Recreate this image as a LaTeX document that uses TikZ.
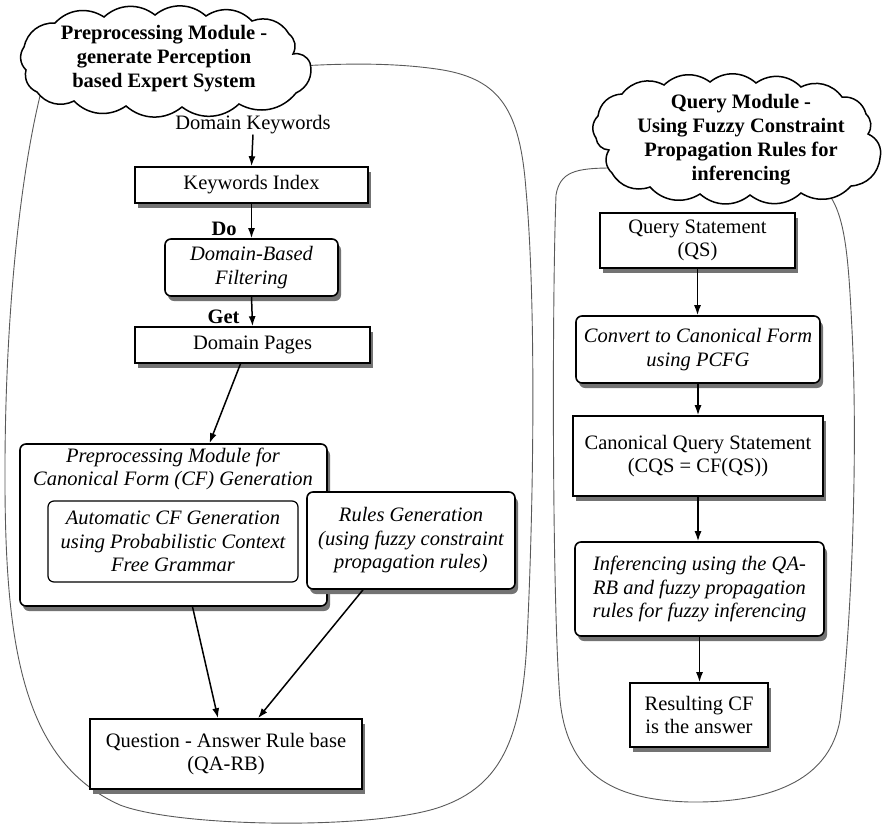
\documentclass[tikz,border=0pt]{standalone}
\usepackage{fontspec}
\setmainfont{Liberation Serif}
\usetikzlibrary{shadows,arrows.meta}
\begin{document}
\begin{tikzpicture}[x=1pt,y=-1pt,
  txt/.style={font=\fontsize{20.5}{23.5}\selectfont, align=center, inner sep=0pt},
  bftxt/.style={font=\fontsize{20.5}{24}\selectfont\bfseries, align=center, inner sep=0pt},
  boxbase/.style={draw=black, line width=1.6pt, fill=white, align=center, inner sep=0pt,
    font=\fontsize{20.5}{23.5}\selectfont,
    drop shadow={shadow xshift=3pt, shadow yshift=-5pt, fill=black!55, opacity=1}},
  sqbox/.style={boxbase},
  itbox/.style={boxbase, rounded corners=6pt, font=\fontsize{20.5}{23.5}\selectfont\itshape},
  arr/.style={-{Latex[length=10pt,width=7pt]}, line width=1.5pt},
  region/.style={draw=black!65, line width=0.9pt},
  cloudline/.style={draw=black, line width=1.5pt, fill=white, line join=miter},
  puff/.style={bend left=40}
]
\useasboundingbox (0,0) rectangle (885,827);

% regions
\draw[region] (40,96) .. controls (22,170) and (6,300) .. (5,460)
  .. controls (4,640) and (20,760) .. (120,805)
  .. controls (180,828) and (380,830) .. (443,806)
  .. controls (500,785) and (522,740) .. (527,640)
  .. controls (534,500) and (536,300) .. (526,190)
  .. controls (520,110) and (500,80) .. (443,70)
  .. controls (400,63) and (350,63) .. (300,66);
\draw[region] (612,168) .. controls (575,168) and (560,172) .. (556,195)
  .. controls (552,300) and (552,600) .. (560,700)
  .. controls (568,780) and (620,800) .. (690,802)
  .. controls (780,803) and (830,775) .. (840,720)
  .. controls (852,620) and (858,450) .. (852,330)
  .. controls (848,250) and (845,205) .. (820,185);

% clouds
\draw[cloudline] (24,47) to[puff] (55,23) to[puff] (104,17) to[puff] (155,15)
  to[puff] (206,16) to[puff] (252,21) to[puff] (289,34) to[puff] (293,54)
  to[puff] (310,63) to[puff] (296,93) to[puff] (239,104) to[puff] (182,107)
  to[puff] (126,106) to[puff] (74,101) to[puff] (37,92) to[puff] (26,70)
  to[puff] (24,47) -- cycle;
\node[bftxt] (c1t) at (164,59) {Preprocessing Module -\\generate Perception\\based Expert System};
\draw[cloudline] (598,116) to[puff] (622,94) to[puff] (664,85) to[puff] (710,82)
  to[puff] (756,83) to[puff] (801,87) to[puff] (842,97) to[puff] (866,114)
  to[puff] (868,134) to[puff] (880,158) to[puff] (851,186) to[puff] (801,193)
  to[puff] (750,195) to[puff] (700,194) to[puff] (650,187) to[puff] (612,173)
  to[puff] (609,150) to[puff] (596,138) to[puff] (598,116) -- cycle;
\node[bftxt] (c2t) at (741,140) {Query Module -\\Using Fuzzy Constraint\\Propagation Rules for\\inferencing};

% left column
\node[txt] (dk) at (253,125) {Domain Keywords};
\node[sqbox, minimum width=233, minimum height=36] (kw) at (251.5,185) {Keywords Index};
\node[itbox, minimum width=173, minimum height=57] (dbf) at (251.5,267.5) {Domain-Based\\Filtering};
\node[sqbox, minimum width=235, minimum height=36] (dp) at (252.5,345) {Domain Pages};
\node[itbox, minimum width=307, minimum height=162] (pm) at (173.5,525) {};
\node[txt, font=\fontsize{20.5}{23.5}\selectfont\itshape] (pmt) at (173,469) {Preprocessing Module for\\Canonical Form (CF) Generation};
\node[draw=black, line width=1.2pt, fill=white, rounded corners=6pt, align=center, inner sep=0pt,
  font=\fontsize{20.5}{23.5}\selectfont\itshape, minimum width=250, minimum height=81] (acf) at (173,541.5) {Automatic CF Generation\\using Probabilistic Context\\Free Grammar};
\node[itbox, minimum width=208, minimum height=97] (rg) at (411,540.5) {Rules Generation\\(using fuzzy constraint\\propagation rules)};
\node[sqbox, minimum width=272, minimum height=70] (qa) at (226,754) {Question - Answer Rule base\\(QA-RB)};

\draw[arr] (dk.south) -- (kw.north);
\draw[arr] (kw.south) -- node[bftxt, anchor=east, pos=0.73, xshift=-14pt] (do) {Do} (dbf.north);
\draw[arr] (dbf.south) -- node[bftxt, anchor=east, pos=0.68, xshift=-12pt] (get) {Get} (dp.north);
\draw[arr] ([xshift=-12pt]dp.south) -- ([xshift=36pt]pm.north);
\draw[arr] ([xshift=19pt]pm.south) -- ([xshift=-8pt]qa.north);
\draw[arr] ([xshift=-48pt]rg.south) -- ([xshift=32pt]qa.north);

% right column
\node[sqbox, minimum width=195, minimum height=55] (qs) at (697.5,240.5) {Query Statement\\(QS)};
\node[itbox, minimum width=244, minimum height=67] (cv) at (698,349.5) {Convert to Canonical Form\\using PCFG};
\node[sqbox, minimum width=250, minimum height=80] (cqs) at (698,456) {Canonical Query Statement\\(CQS = CF(QS))};
\node[itbox, minimum width=249, minimum height=94] (inf) at (699.5,589) {Inferencing using the QA-\\RB and fuzzy propagation\\rules for fuzzy inferencing};
\node[sqbox, minimum width=138, minimum height=64] (res) at (699,715) {Resulting CF\\is the answer};

\draw[arr] (qs.south) -- (qs.south |- cv.north);
\draw[arr] (cv.south) -- (cv.south |- cqs.north);
\draw[arr] (cqs.south) -- (cqs.south |- inf.north);
\draw[arr] (inf.south) -- (inf.south |- res.north);
\end{tikzpicture}
\end{document}
